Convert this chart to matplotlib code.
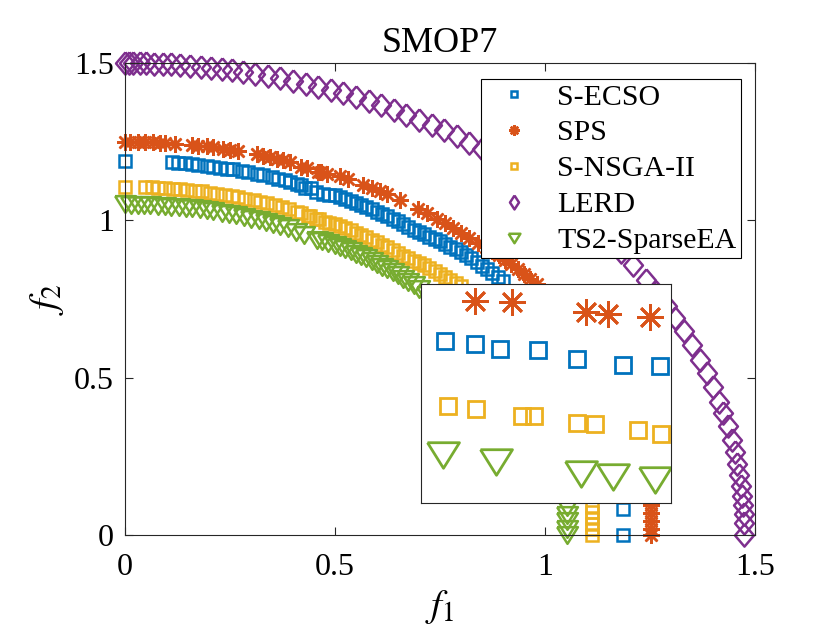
import matplotlib
matplotlib.use('Agg')
import matplotlib.pyplot as plt
from matplotlib.lines import Line2D

plt.rcParams['font.family'] = ['Liberation Serif', 'DejaVu Serif']
plt.rcParams['mathtext.fontset'] = 'stix'

names = ['S-ECSO', 'SPS', 'S-NSGA-II', 'LERD', 'TS2-SparseEA']
colors = ['#0072BD', '#D95319', '#EDB120', '#7E2F8E', '#77AC30']

# S-ECSO
ecso_f1 = [0, 0.111, 0.126, 0.143, 0.160, 0.174, 0.195, 0.210, 0.226, 0.243,
           0.257, 0.279, 0.293, 0.314, 0.329, 0.350, 0.364, 0.381, 0.393,
           0.4086, 0.4193, 0.4282, 0.4418, 0.4554, 0.4718, 0.4850,
           0.500, 0.512, 0.525, 0.537, 0.550, 0.562, 0.575, 0.588, 0.600, 0.613,
           0.625, 0.638, 0.650, 0.663, 0.675, 0.688, 0.700, 0.712, 0.725, 0.738,
           0.750, 0.762, 0.775, 0.788, 0.800, 0.812, 0.825, 0.838, 0.850, 0.862,
           0.875, 0.888, 0.900, 0.95, 1.00, 1.05, 1.10, 1.15, 1.186, 1.186]
ecso_f2 = [1.190, 1.185, 1.183, 1.181, 1.179, 1.177, 1.174, 1.171, 1.168, 1.165,
           1.162, 1.157, 1.153, 1.148, 1.144, 1.137, 1.133, 1.127, 1.123,
           1.1164, 1.1111, 1.1044, 1.1031, 1.0910, 1.0830, 1.0817,
           1.080, 1.074, 1.068, 1.062, 1.055, 1.049, 1.042, 1.035, 1.028, 1.020,
           1.013, 1.005, 0.997, 0.988, 0.980, 0.971, 0.964, 0.956, 0.947, 0.940,
           0.934, 0.926, 0.917, 0.908, 0.899, 0.890, 0.879, 0.867, 0.856, 0.845,
           0.832, 0.819, 0.806, 0.74, 0.67, 0.58, 0.47, 0.31, 0.083, 0.0]

# SPS
sps_f1 = [0, 0.012, 0.031, 0.048, 0.067, 0.083, 0.095, 0.119,
          0.160, 0.174, 0.195, 0.210, 0.233, 0.250, 0.269,
          0.314, 0.329, 0.345, 0.362, 0.376, 0.392,
          0.4193, 0.4325, 0.4589, 0.4664, 0.4814,
          0.512, 0.531, 0.567, 0.588, 0.607, 0.624, 0.655,
          0.698, 0.719, 0.743, 0.762, 0.781,
          0.800, 0.820, 0.840, 0.860, 0.875, 0.890, 0.905, 0.920, 0.935, 0.950, 0.965, 0.980,
          1.02, 1.07, 1.12, 1.17, 1.21, 1.24,
          1.253, 1.253, 1.253, 1.253, 1.253]
sps_f2 = [1.250, 1.250, 1.250, 1.249, 1.248, 1.247, 1.246, 1.244,
          1.240, 1.238, 1.235, 1.232, 1.228, 1.225, 1.221,
          1.210, 1.206, 1.201, 1.196, 1.192, 1.187,
          1.1699, 1.1673, 1.1539, 1.1525, 1.1472,
          1.140, 1.132, 1.114, 1.103, 1.093, 1.083, 1.065,
          1.037, 1.023, 1.005, 0.991, 0.976,
          0.961, 0.944, 0.927, 0.915, 0.902, 0.889, 0.875, 0.861, 0.846, 0.831, 0.815, 0.799,
          0.72, 0.65, 0.56, 0.44, 0.31, 0.16,
          0.095, 0.07, 0.045, 0.02, 0.0]

# S-NSGA-II
nsga_f1 = [0, 0.048, 0.064, 0.079, 0.095, 0.115, 0.131, 0.147, 0.167, 0.183,
           0.202, 0.218, 0.238, 0.254, 0.270, 0.286, 0.306, 0.321, 0.337, 0.357,
           0.373, 0.390,
           0.4096, 0.4196, 0.4361, 0.4404, 0.4557, 0.4621, 0.4771, 0.4853,
           0.500, 0.512, 0.525, 0.537, 0.550, 0.562, 0.575, 0.588, 0.600, 0.612,
           0.625, 0.637, 0.650, 0.662, 0.675, 0.687, 0.700, 0.712, 0.725, 0.737,
           0.750, 0.762, 0.775, 0.787, 0.800,
           0.85, 0.90, 0.95, 1.00, 1.05, 1.09,
           1.112, 1.112, 1.112, 1.112, 1.112, 1.112]
nsga_f2 = [1.107, 1.106, 1.105, 1.104, 1.103, 1.101, 1.099, 1.097, 1.094, 1.092,
           1.088, 1.085, 1.081, 1.077, 1.074, 1.069, 1.064, 1.059, 1.054, 1.048,
           1.042, 1.036,
           1.0283, 1.0242, 1.0149, 1.0149, 1.0055, 1.0042, 0.9962, 0.9908,
           0.988, 0.981, 0.975, 0.968, 0.961, 0.954, 0.946, 0.938, 0.930, 0.922,
           0.914, 0.905, 0.896, 0.887, 0.879, 0.871, 0.864, 0.857, 0.848, 0.839,
           0.830, 0.821, 0.811, 0.801, 0.790,
           0.73, 0.66, 0.58, 0.48, 0.35, 0.19,
           0.09, 0.072, 0.054, 0.036, 0.018, 0.0]

# LERD
lerd_f1 = [0, 0.010, 0.020, 0.035, 0.050, 0.070, 0.090, 0.110, 0.130, 0.155,
           0.180, 0.205, 0.230, 0.255, 0.280, 0.310, 0.340, 0.370, 0.400, 0.430,
           0.460, 0.490, 0.520, 0.550, 0.580, 0.610, 0.640, 0.670, 0.700, 0.730,
           0.760, 0.790, 0.820, 0.850, 0.880, 0.910, 0.940, 0.970, 1.000, 1.030,
           1.060, 1.090, 1.120, 1.150, 1.180, 1.210, 1.240, 1.265, 1.290, 1.310,
           1.330, 1.350, 1.370, 1.385, 1.400, 1.415, 1.425, 1.435, 1.445, 1.452,
           1.458, 1.463, 1.467, 1.470, 1.472, 1.4735, 1.4745, 1.475]
lerd_f2 = [1.500, 1.500, 1.500, 1.500, 1.499, 1.498, 1.497, 1.496, 1.494, 1.492,
           1.489, 1.485, 1.482, 1.477, 1.473, 1.467, 1.460, 1.452, 1.444, 1.435,
           1.425, 1.415, 1.404, 1.392, 1.379, 1.366, 1.351, 1.336, 1.320, 1.303,
           1.286, 1.267, 1.247, 1.226, 1.204, 1.181, 1.156, 1.130, 1.103, 1.074,
           1.043, 1.011, 0.976, 0.939, 0.900, 0.858, 0.812, 0.771, 0.727, 0.689,
           0.649, 0.604, 0.556, 0.516, 0.472, 0.423, 0.387, 0.347, 0.301, 0.264,
           0.227, 0.191, 0.156, 0.123, 0.096, 0.068, 0.039, 0.0]

# TS2-SparseEA
ts2_f1 = [0, 0.015, 0.030, 0.045, 0.060, 0.078, 0.095, 0.110, 0.128, 0.145,
          0.160, 0.178, 0.195, 0.210, 0.230, 0.248, 0.265, 0.283, 0.300, 0.318,
          0.335, 0.352, 0.370, 0.387,
          0.4079, 0.4268, 0.4568, 0.4682, 0.4832,
          0.500, 0.512, 0.525, 0.537, 0.550, 0.562, 0.575, 0.587, 0.600, 0.612,
          0.625, 0.637, 0.650, 0.662, 0.675, 0.687, 0.700, 0.720, 0.740,
          0.80, 0.86, 0.92, 0.98, 1.02,
          1.052, 1.052, 1.052, 1.052, 1.052]
ts2_f2 = [1.052, 1.050, 1.050, 1.049, 1.048, 1.047, 1.046, 1.044, 1.042, 1.040,
          1.038, 1.035, 1.032, 1.029, 1.025, 1.020, 1.016, 1.011, 1.006, 1.001,
          0.995, 0.989, 0.983, 0.976,
          0.9628, 0.9534, 0.9374, 0.9334, 0.9294,
          0.923, 0.917, 0.909, 0.902, 0.894, 0.887, 0.879, 0.871, 0.862, 0.853,
          0.844, 0.835, 0.825, 0.815, 0.804, 0.794, 0.783, 0.764, 0.745,
          0.68, 0.60, 0.51, 0.38, 0.25,
          0.09, 0.065, 0.045, 0.02, 0.0]

tri = [(-1, 0.8), (1, 0.8), (0, -0.8), (-1, 0.8)]
dia = [(0, 1), (0.85, 0), (0, -1), (-0.85, 0), (0, 1)]
dia_leg = [(0, 1), (0.65, 0), (0, -1), (-0.65, 0), (0, 1)]
star = (8, 2, 0)

data = [(ecso_f1, ecso_f2), (sps_f1, sps_f2), (nsga_f1, nsga_f2),
        (lerd_f1, lerd_f2), (ts2_f1, ts2_f2)]
markers = ['s', star, 's', dia, tri]
main_ms = [9, 12, 9, 16, 15]
inset_ms = [12, 19, 12, 13, 23]
leg_markers = ['s', star, 's', dia_leg, tri]
leg_ms = [4.5, 7.5, 4.5, 10, 8.5]

fig = plt.figure(figsize=(8.4, 6.3), dpi=100)
ax = fig.add_axes([0.1488, 0.1508, 0.75, 0.749])

for (x, y), m, s, c in zip(data, markers, main_ms, colors):
    ax.plot(x, y, linestyle='none', marker=m, ms=s, mfc='none', mec=c,
            mew=1.8, clip_on=False)

ax.set_xlim(0, 1.5)
ax.set_ylim(0, 1.5)
ax.set_xticks([0, 0.5, 1, 1.5])
ax.set_xticklabels(['0', '0.5', '1', '1.5'])
ax.set_yticks([0, 0.5, 1, 1.5])
ax.set_yticklabels(['0', '0.5', '1', '1.5'])
ax.tick_params(direction='in', top=True, right=True, length=6, width=0.8,
               labelsize=23, color='#262626')
ax.tick_params(axis='x', pad=13)
ax.tick_params(axis='y', pad=8)
for sp in ax.spines.values():
    sp.set_color('#262626')
    sp.set_linewidth(0.8)

ax.set_title('SMOP7', fontsize=26, pad=8)
ax.set_xlabel(r'$f_1$', fontsize=28, labelpad=4)
ax.set_ylabel(r'$f_2$', fontsize=28, labelpad=6)

handles = [Line2D([], [], linestyle='none', marker=m, ms=s, mfc='none', mec=c, mew=1.8)
           for m, s, c in zip(leg_markers, leg_ms, colors)]
leg = ax.legend(handles, names, loc='upper right', bbox_to_anchor=(0.978, 0.966),
                fontsize=21.5, frameon=True, fancybox=False, edgecolor='black',
                framealpha=1, borderpad=0.15, labelspacing=0.3, handlelength=1.9,
                handletextpad=0.5, borderaxespad=0)
leg.get_frame().set_linewidth(0.8)

axin = fig.add_axes([0.5012, 0.2016, 0.2976, 0.3476])
for (x, y), m, s, c in zip(data, markers, inset_ms, colors):
    axin.plot(x, y, linestyle='none', marker=m, ms=s, mfc='none', mec=c, mew=2)
axin.set_xlim(0.40, 0.489)
axin.set_ylim(0.899, 1.192)
axin.set_xticks([])
axin.set_yticks([])
for sp in axin.spines.values():
    sp.set_color('#262626')
    sp.set_linewidth(0.8)

fig.savefig('out.png', dpi=100)
